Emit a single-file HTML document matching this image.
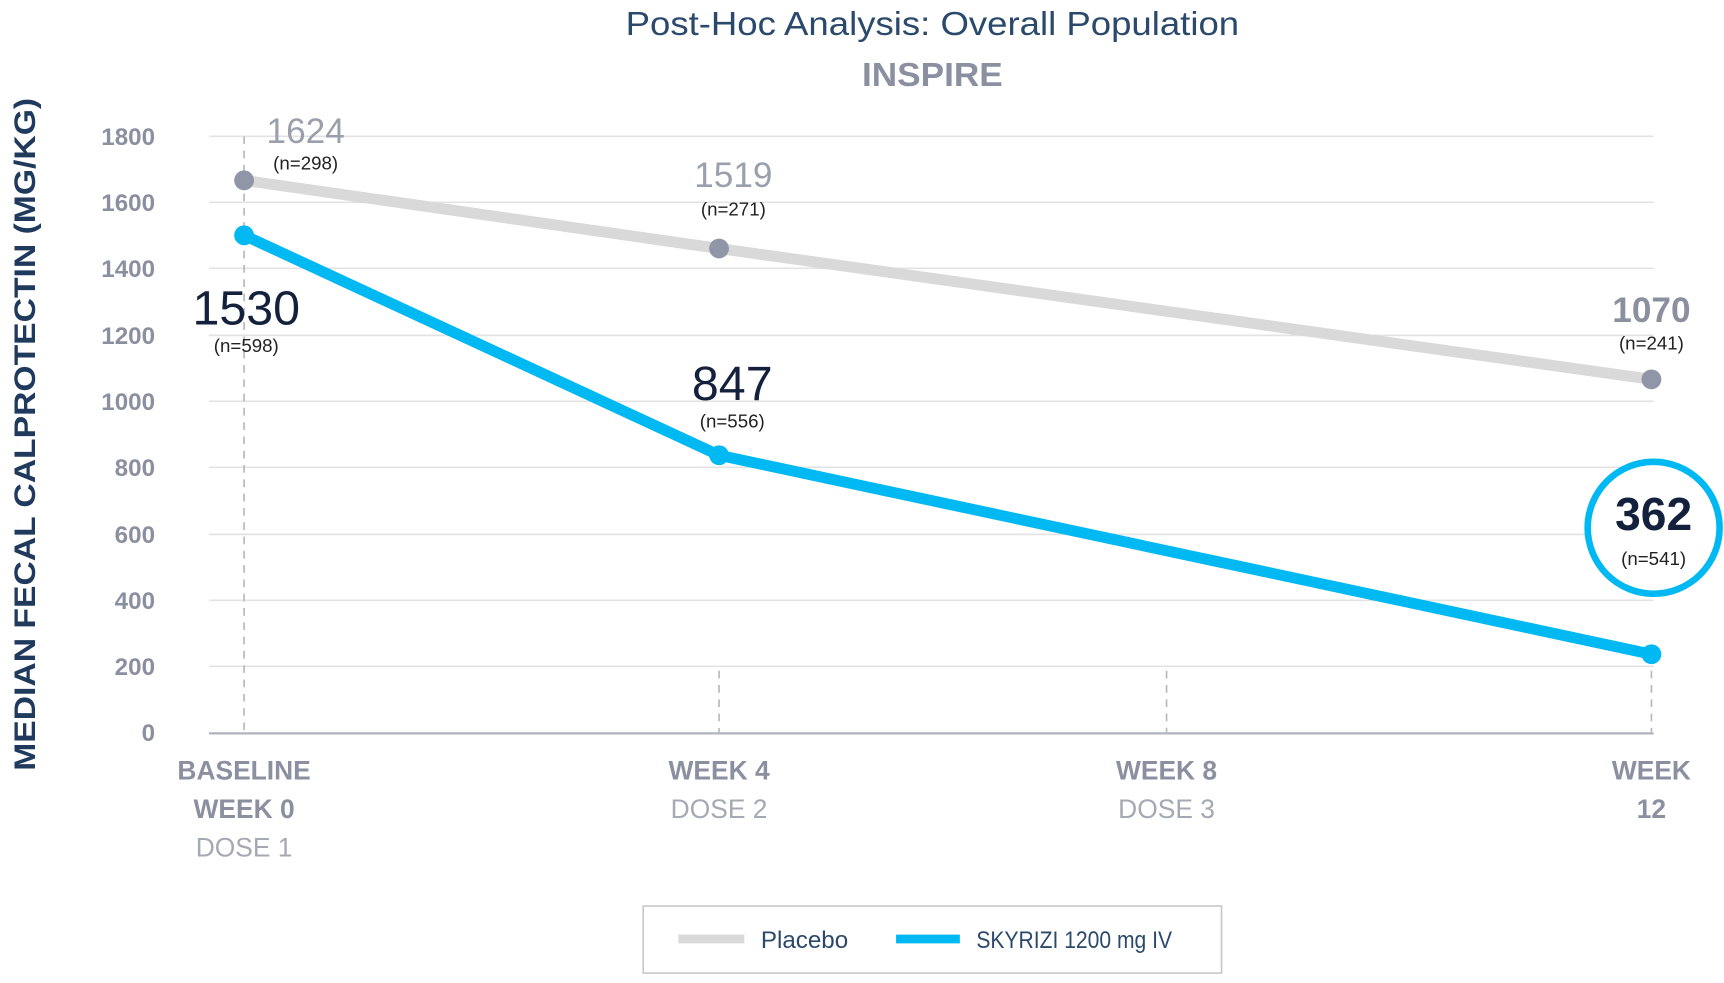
<!DOCTYPE html>
<html><head><meta charset="utf-8"><style>
html,body{margin:0;padding:0;background:#fff;}
svg{display:block;}
text{font-family:"Liberation Sans Narrow","Liberation Sans",sans-serif;}
</style></head><body>
<svg width="1724" height="983" viewBox="0 0 1568 894" preserveAspectRatio="none" xmlns="http://www.w3.org/2000/svg">
<text x="848" y="32" text-anchor="middle" font-size="30" fill="#2b4a6b" textLength="558" lengthAdjust="spacingAndGlyphs">Post-Hoc Analysis: Overall Population</text>
<text x="848" y="78" text-anchor="middle" font-size="30" font-weight="bold" fill="#8a90a0" textLength="128" lengthAdjust="spacingAndGlyphs">INSPIRE</text>
<g stroke="#e3e3e3" stroke-width="1.5">
<line x1="190" x2="1504" y1="124" y2="124"/><line x1="190" x2="1504" y1="184" y2="184"/><line x1="190" x2="1504" y1="244" y2="244"/><line x1="190" x2="1504" y1="305" y2="305"/><line x1="190" x2="1504" y1="365" y2="365"/><line x1="190" x2="1504" y1="425" y2="425"/><line x1="190" x2="1504" y1="486" y2="486"/><line x1="190" x2="1504" y1="546" y2="546"/><line x1="190" x2="1504" y1="606" y2="606"/>
</g>
<line x1="190" x2="1504" y1="667" y2="667" stroke="#b0b4be" stroke-width="2"/>
<g stroke="#b5b8c0" stroke-width="1.5" stroke-dasharray="7,6">
<line x1="222" x2="222" y1="124" y2="666"/><line x1="654" x2="654" y1="610" y2="666"/><line x1="1061" x2="1061" y1="610" y2="666"/><line x1="1502" x2="1502" y1="610" y2="666"/>
</g>
<g font-size="22" font-weight="bold" fill="#8a90a0" text-anchor="end">
<text x="141" y="132">1800</text><text x="141" y="192">1600</text><text x="141" y="252">1400</text><text x="141" y="313">1200</text><text x="141" y="373">1000</text><text x="141" y="433">800</text><text x="141" y="494">600</text><text x="141" y="554">400</text><text x="141" y="614">200</text><text x="141" y="674">0</text>
</g>
<text transform="translate(32,395) rotate(-90)" text-anchor="middle" font-size="27" font-weight="bold" fill="#1f3a5c" font-family="Liberation Sans,sans-serif" textLength="612" lengthAdjust="spacingAndGlyphs">MEDIAN FECAL CALPROTECTIN (MG/KG)</text>
<polyline points="222,164 654,226 1502,345" fill="none" stroke="#d9d9d9" stroke-width="10"/>
<polyline points="222,214 654,414 1502,595" fill="none" stroke="#00b9f2" stroke-width="10"/>
<g fill="#8e96a8"><circle cx="222" cy="164" r="9"/><circle cx="654" cy="226" r="9"/><circle cx="1502" cy="345" r="9"/></g>
<g fill="#00b9f2"><circle cx="222" cy="214" r="9"/><circle cx="654" cy="414" r="9"/><circle cx="1502" cy="595" r="9"/></g>
<g text-anchor="middle">
<text x="278" y="130" font-size="32" fill="#9aa0ab">1624</text>
<text x="278" y="154" font-size="17" fill="#222">(n=298)</text>
<text x="667" y="170" font-size="32" fill="#9aa0ab">1519</text>
<text x="667" y="196" font-size="17" fill="#222">(n=271)</text>
<text x="224" y="295" font-size="44" fill="#14213d">1530</text>
<text x="224" y="320" font-size="17" fill="#222">(n=598)</text>
<text x="666" y="364" font-size="44" fill="#14213d">847</text>
<text x="666" y="389" font-size="17" fill="#222">(n=556)</text>
<text x="1502" y="293" font-size="32" font-weight="bold" fill="#8a90a0">1070</text>
<text x="1502" y="318" font-size="17" fill="#222">(n=241)</text>
</g>
<circle cx="1504" cy="480" r="60" fill="#fff" stroke="#00b9f2" stroke-width="6"/>
<text x="1504" y="482" text-anchor="middle" font-size="42" font-weight="bold" fill="#14213d">362</text>
<text x="1504" y="514" text-anchor="middle" font-size="17" fill="#222">(n=541)</text>
<g text-anchor="middle" font-size="24" fill="#8a90a0">
<text x="222" y="709" font-weight="bold">BASELINE</text>
<text x="222" y="744" font-weight="bold">WEEK 0</text>
<text x="222" y="779" fill="#a4a9b4">DOSE 1</text>
<text x="654" y="709" font-weight="bold">WEEK 4</text>
<text x="654" y="744" fill="#a4a9b4">DOSE 2</text>
<text x="1061" y="709" font-weight="bold">WEEK 8</text>
<text x="1061" y="744" fill="#a4a9b4">DOSE 3</text>
<text x="1502" y="709" font-weight="bold">WEEK</text>
<text x="1502" y="744" font-weight="bold">12</text>
</g>
<rect x="585" y="824" width="526" height="61" fill="#fff" stroke="#c8c8c8" stroke-width="1.5"/>
<line x1="617" x2="677" y1="854" y2="854" stroke="#d9d9d9" stroke-width="8"/>
<text x="692" y="862" font-size="22" fill="#2b4a6b">Placebo</text>
<line x1="815" x2="873" y1="854" y2="854" stroke="#00b9f2" stroke-width="8"/>
<text x="888" y="862" font-size="22" fill="#2b4a6b" textLength="178" lengthAdjust="spacingAndGlyphs">SKYRIZI 1200 mg IV</text>
</svg>
</body></html>
